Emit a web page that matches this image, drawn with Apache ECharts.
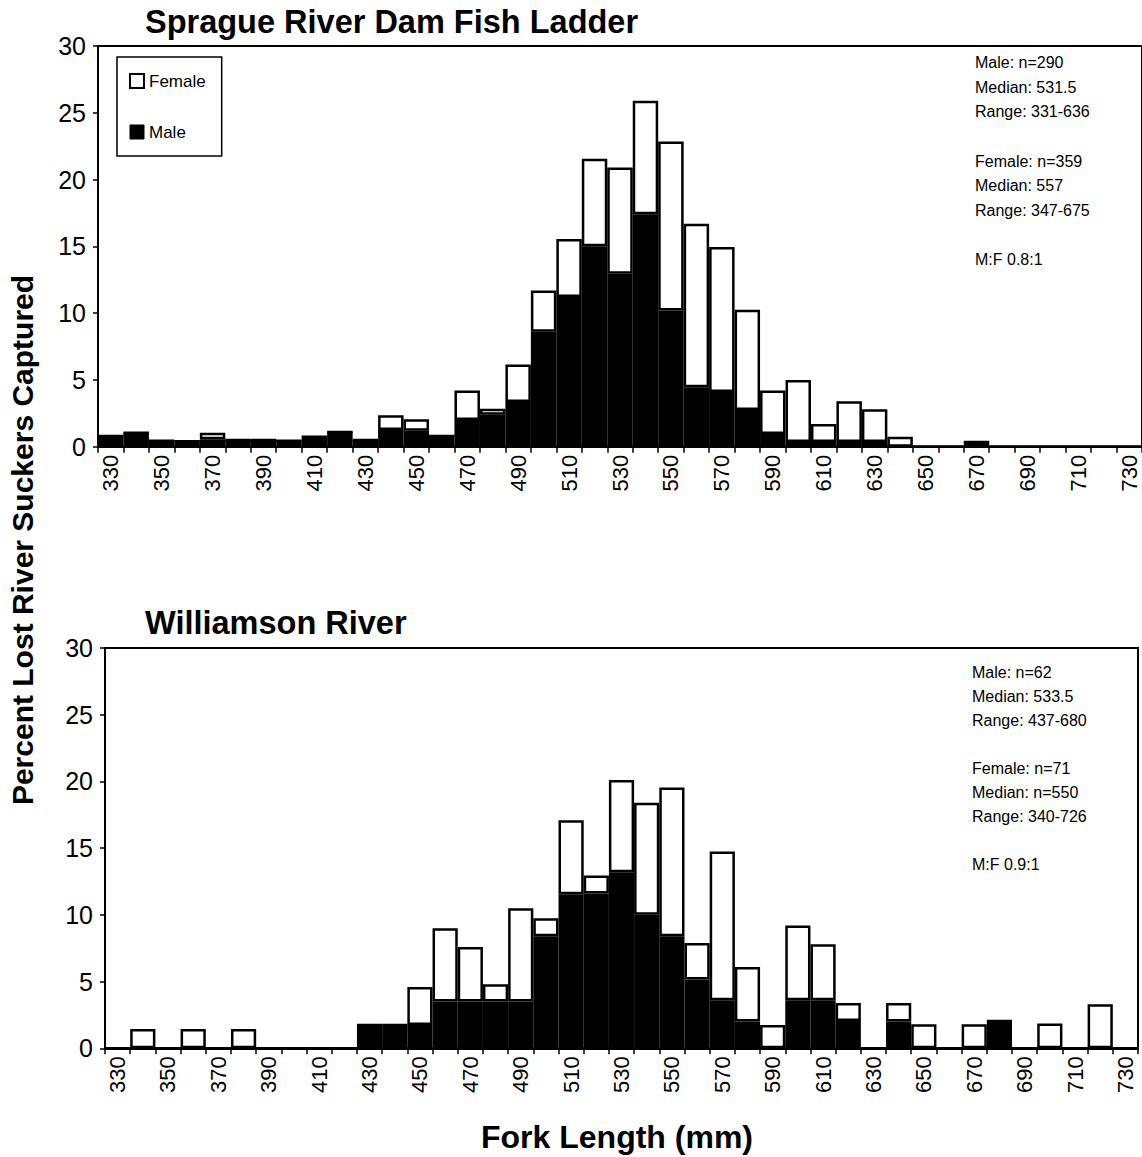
<!DOCTYPE html>
<html>
<head>
<meta charset="utf-8">
<script src="https://cdn.jsdelivr.net/npm/echarts@6/dist/echarts.min.js"></script>
<style>
  html, body { margin: 0; padding: 0; background: #fff; }
  #chart { width: 1142px; height: 1157px; }
</style>
</head>
<body>
<div id="chart"></div>
<script>
// Fork length bins (mm)
const categories = ['330','340','350','360','370','380','390','400','410','420',
  '430','440','450','460','470','480','490','500','510','520',
  '530','540','550','560','570','580','590','600','610','620',
  '630','640','650','660','670','680','690','700','710','720','730'];

// Sprague River Dam Fish Ladder (percent), male bottom segment, female top segment
const spragueMale = [0.8, 1.05, 0.45, 0.4, 0.55, 0.5, 0.5, 0.45, 0.75, 1.1,
  0.5, 1.25, 1.2, 0.8, 2.0, 2.4, 3.35, 8.6, 11.2, 15.0,
  12.95, 17.4, 10.2, 4.45, 4.1, 2.75, 0.95, 0.35, 0.35, 0.35,
  0.35, 0, 0, 0, 0.35, 0, 0, 0, 0, 0, 0];
const spragueFemale = [0, 0, 0, 0, 0.5, 0, 0, 0, 0, 0,
  0, 1.1, 0.85, 0, 2.2, 0.45, 2.8, 3.1, 4.35, 6.55,
  7.95, 8.5, 12.65, 12.25, 10.85, 7.5, 3.25, 4.65, 1.35, 3.05,
  2.45, 0.75, 0, 0, 0, 0, 0, 0, 0, 0, 0];

// Williamson River (percent)
const williamsonMale = [0, 0, 0, 0, 0, 0, 0, 0, 0, 0,
  1.75, 1.75, 1.75, 3.5, 3.5, 3.5, 3.5, 8.4, 11.55, 11.6,
  13.2, 10.0, 8.4, 5.15, 3.6, 2.0, 0, 3.6, 3.6, 2.05,
  0, 2.0, 0, 0, 0, 2.05, 0, 0, 0, 0, 0];
const williamsonFemale = [0, 1.45, 0, 1.45, 0, 1.45, 0, 0, 0, 0,
  0, 0, 2.85, 5.5, 4.1, 1.3, 7.0, 1.35, 5.55, 1.35,
  6.9, 8.4, 11.15, 2.75, 11.15, 4.1, 1.75, 5.6, 4.2, 1.35,
  0, 1.4, 1.8, 0, 1.8, 0, 0, 1.85, 0, 3.3, 0];

const spragueStats = ['Male: n=290', 'Median: 531.5', 'Range: 331-636', '',
  'Female: n=359', 'Median: 557', 'Range: 347-675', '', 'M:F 0.8:1'];
const williamsonStats = ['Male: n=62', 'Median: 533.5', 'Range: 437-680', '',
  'Female: n=71', 'Median: n=550', 'Range: 340-726', '', 'M:F 0.9:1'];

const FONT = '"Liberation Sans", Arial, Helvetica, sans-serif';

function xAxisCfg(idx) {
  return {
    gridIndex: idx, type: 'category', data: categories,
    axisLine: { lineStyle: { color: '#000', width: 2 } },
    axisTick: { show: true, interval: 0, length: 6, lineStyle: { color: '#000', width: 1.5 } },
    axisLabel: { interval: 1, rotate: 90, fontSize: 22, color: '#000', margin: 8, fontFamily: FONT },
    splitLine: { show: false }
  };
}
function yAxisCfg(idx) {
  return {
    gridIndex: idx, type: 'value', min: 0, max: 30, interval: 5,
    axisLine: { show: true, lineStyle: { color: '#000', width: 2 } },
    axisTick: { show: true, length: 5, lineStyle: { color: '#000', width: 1.5 } },
    axisLabel: { fontSize: 25, color: '#000', margin: 12, fontFamily: FONT },
    splitLine: { show: false }
  };
}
function barSeries(name, idx, data, isMale) {
  return {
    name: name, type: 'bar', xAxisIndex: idx, yAxisIndex: idx, stack: 's' + idx,
    data: data, barCategoryGap: '0%',
    itemStyle: { color: isMale ? '#000' : '#fff', borderColor: '#000', borderWidth: 2.5 },
    emphasis: { disabled: true }
  };
}

const chart = echarts.init(document.getElementById('chart'), null, { renderer: 'svg' });
chart.setOption({
  animation: false,
  backgroundColor: '#fff',
  title: [
    { text: 'Sprague River Dam Fish Ladder', left: 145, top: 5, padding: 0,
      textStyle: { fontSize: 32.5, fontWeight: 'bold', color: '#000', fontFamily: FONT } },
    { text: 'Williamson River', left: 145, top: 606, padding: 0,
      textStyle: { fontSize: 32.5, fontWeight: 'bold', color: '#000', fontFamily: FONT } }
  ],
  legend: {
    left: 117, top: 57, orient: 'vertical', selectedMode: false,
    itemWidth: 14, itemHeight: 14, itemGap: 34, padding: [15.5, 16, 15.5, 12],
    borderColor: '#000', borderWidth: 1.5,
    textStyle: { fontSize: 17, color: '#000', fontFamily: FONT },
    data: [
      { name: 'Female', icon: 'rect', itemStyle: { color: '#fff', borderColor: '#000', borderWidth: 2 } },
      { name: 'Male', icon: 'rect', itemStyle: { color: '#000', borderColor: '#000', borderWidth: 1 } }
    ]
  },
  grid: [
    { left: 98, top: 46, width: 1045.5, height: 400.7, show: true, borderColor: '#000', borderWidth: 2, backgroundColor: 'transparent' },
    { left: 105, top: 648, width: 1033, height: 400.3, show: true, borderColor: '#000', borderWidth: 2, backgroundColor: 'transparent' }
  ],
  xAxis: [xAxisCfg(0), xAxisCfg(1)],
  yAxis: [yAxisCfg(0), yAxisCfg(1)],
  series: [
    barSeries('Male', 0, spragueMale, true),
    barSeries('Female', 0, spragueFemale, false),
    barSeries('Male', 1, williamsonMale, true),
    barSeries('Female', 1, williamsonFemale, false)
  ],
  graphic: [
    { type: 'text', left: 975, top: 50,
      style: { text: spragueStats.join('\n'), fontSize: 16, lineHeight: 24.7, fill: '#000', fontFamily: FONT } },
    { type: 'text', left: 972, top: 660,
      style: { text: williamsonStats.join('\n'), fontSize: 16, lineHeight: 24, fill: '#000', fontFamily: FONT } },
    { type: 'text', x: 22, y: 540, rotation: Math.PI / 2,
      style: { text: 'Percent Lost River Suckers Captured', fontSize: 30, fontWeight: 'bold', fill: '#000',
        fontFamily: FONT, align: 'center', verticalAlign: 'middle' } },
    { type: 'text', x: 617, y: 1137,
      style: { text: 'Fork Length (mm)', fontSize: 32, fontWeight: 'bold', fill: '#000',
        fontFamily: FONT, align: 'center', verticalAlign: 'middle' } }
  ]
});
</script>
</body>
</html>
